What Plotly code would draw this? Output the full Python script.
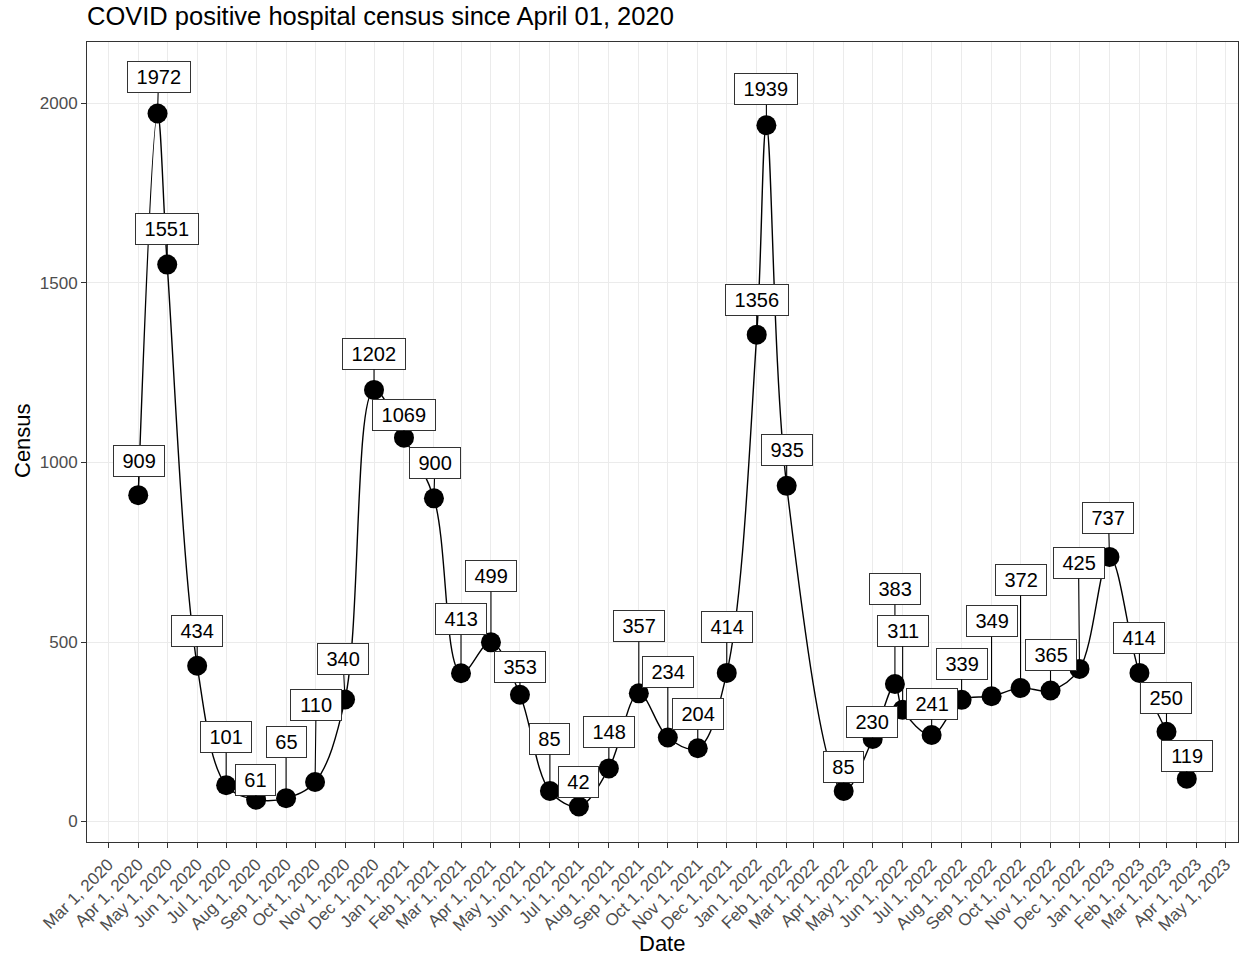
import plotly.graph_objects as go

# ---- data ----
dates = [
    "2020-04-01", "2020-04-21", "2020-05-01", "2020-06-01", "2020-07-01", "2020-08-01",
    "2020-09-01", "2020-10-01", "2020-11-01", "2020-12-01", "2021-01-01", "2021-02-01",
    "2021-03-01", "2021-04-01", "2021-05-01", "2021-06-01", "2021-07-01", "2021-08-01",
    "2021-09-01", "2021-10-01", "2021-11-01", "2021-12-01", "2022-01-01", "2022-01-11",
    "2022-02-01", "2022-04-01", "2022-05-01", "2022-05-24", "2022-06-01", "2022-07-01",
    "2022-08-01", "2022-09-01", "2022-10-01", "2022-11-01", "2022-12-01", "2023-01-01",
    "2023-02-01", "2023-03-01", "2023-03-22",
]
census = [
    909, 1972, 1551, 434, 101, 61,
    65, 110, 340, 1202, 1069, 900,
    413, 499, 353, 85, 42, 148,
    357, 234, 204, 414, 1356, 1939,
    935, 85, 230, 383, 311, 241,
    339, 349, 372, 365, 425, 737,
    414, 250, 119,
]
y_ticks = [0, 500, 1000, 1500, 2000]

# ---- label placement (pixel offsets of each label box from its point; layout only) ----
label_dx = [1, 1, 0, 0, 0, -1, 0, 1, -2, 0, 0, 1,
            0, 0, 0, 0, 0, 0, 0, 0, 0, 0, 0, 0,
            0, 0, -1, 0, 0, 0, 0, 0, 0, 0, -1, -1,
            0, 0, 0]
label_dy = [-34, -36, -36, -35, -48, -20, -56, -77, -40, -36, -23, -35,
            -54, -66, -28, -52, -24, -36, -67, -66, -34, -46, -35, -36,
            -36, -24, -17, -95, -79, -31, -36, -75, -108, -35, -106, -39,
            -35, -34, -23]

FONT = "Liberation Sans, Arial, sans-serif"
W, H = 1239, 955
ML, MR, MT, MB = 87, 1, 42, 113

fig = go.Figure()
fig.add_trace(go.Scatter(
    x=dates, y=census, mode="lines",
    line=dict(color="black", width=1.4, shape="spline", smoothing=1.0),
    hoverinfo="skip", showlegend=False,
))
fig.add_trace(go.Scatter(
    x=dates, y=census, mode="markers",
    marker=dict(color="black", size=20),
    showlegend=False,
))

annotations = []
for d, v, dx, dy in zip(dates, census, label_dx, label_dy):
    txt = str(v)
    annotations.append(dict(
        x=d, y=v, xref="x", yref="y",
        text=txt, showarrow=True, arrowhead=0, arrowwidth=1.1,
        arrowcolor="black", ax=dx, ay=dy, standoff=0,
        font=dict(family=FONT, size=20, color="black"),
        bgcolor="white", bordercolor="#333333", borderwidth=1, borderpad=4,
        width=11.4 * len(txt) + 8,
    ))

# axis titles placed explicitly
annotations.append(dict(
    text="Date", xref="paper", yref="paper", showarrow=False,
    x=(662 - ML) / (W - ML - MR), y=-(943 - (H - MB)) / (H - MT - MB),
    xanchor="center", yanchor="middle",
    font=dict(family=FONT, size=22, color="black"),
))
annotations.append(dict(
    text="Census", xref="paper", yref="paper", showarrow=False, textangle=-90,
    x=-(ML - 22) / (W - ML - MR), y=1 - (441 - MT) / (H - MT - MB),
    xanchor="center", yanchor="middle",
    font=dict(family=FONT, size=22, color="black"),
))

fig.update_layout(
    width=W, height=H,
    margin=dict(l=ML, r=MR, t=MT, b=MB, autoexpand=False),
    paper_bgcolor="white", plot_bgcolor="white",
    font=dict(family=FONT, color="black"),
    title=dict(
        text="COVID positive hospital census since April 01, 2020",
        x=87 / W, xanchor="left", xref="container",
        y=1 - 16 / H, yanchor="middle", yref="container",
        font=dict(size=25.5, color="black"),
    ),
    annotations=annotations,
    showlegend=False,
)
fig.update_xaxes(
    automargin=False,
    range=["2020-02-08", "2023-05-14"],
    tickmode="linear", tick0="2020-03-01", dtick="M1",
    tickformat="%b %-d, %Y", tickangle=-45,
    tickfont=dict(size=17, color="#4D4D4D"),
    ticks="outside", ticklen=5, tickcolor="#333333", tickwidth=1,
    showgrid=True, gridcolor="#EBEBEB", gridwidth=1.2,
    showline=True, linecolor="#333333", linewidth=1, mirror=True,
    zeroline=False,
)
fig.update_yaxes(
    automargin=False,
    range=[-57, 2171],
    tickmode="array", tickvals=y_ticks,
    tickfont=dict(size=17, color="#4D4D4D"),
    ticks="outside", ticklen=5, tickcolor="#333333", tickwidth=1,
    showgrid=True, gridcolor="#EBEBEB", gridwidth=1.2,
    showline=True, linecolor="#333333", linewidth=1, mirror=True,
    zeroline=False,
)

fig.write_html(
    "out.html",
    config={"displayModeBar": False},
    post_script="document.body.style.margin='0';document.body.style.overflow='hidden';",
)
